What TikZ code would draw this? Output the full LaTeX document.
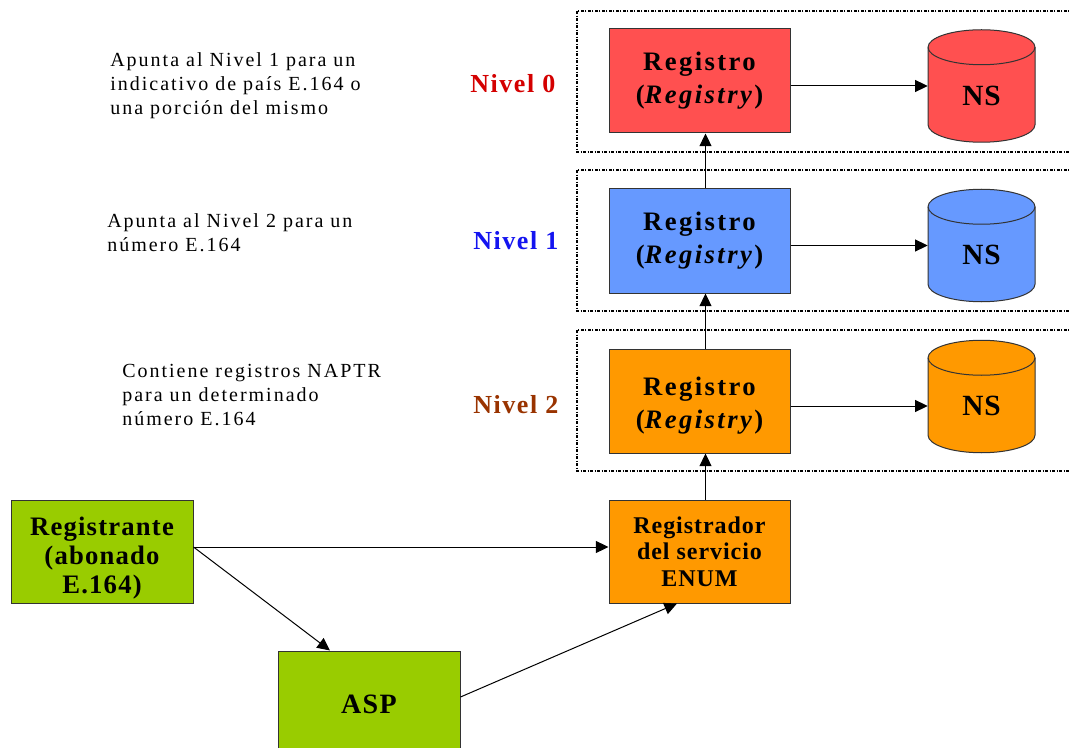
\documentclass[tikz,border=0pt]{standalone}
\usepackage{fontspec}
\setmainfont{Liberation Serif}
\usetikzlibrary{arrows.meta,calc}
\definecolor{cred}{HTML}{FF5050}
\definecolor{cblue}{HTML}{6699FF}
\definecolor{corange}{HTML}{FF9900}
\definecolor{cgreen}{HTML}{99CC00}
\definecolor{nred}{HTML}{D40000}
\definecolor{nblue}{HTML}{1414F0}
\definecolor{nbrown}{HTML}{993300}
\definecolor{bd}{HTML}{333333}
\newcommand\drawcyl[2]{%
  \filldraw[fill=#2,draw=bd,line width=0.75pt]
    ($(#1)+(-53.5,-38.75)$) -- ($(#1)+(-53.5,38.75)$)
    arc[start angle=180,end angle=0,x radius=53.5,y radius=17.5]
    -- ($(#1)+(53.5,-38.75)$)
    arc[start angle=0,end angle=-180,x radius=53.5,y radius=17.5] -- cycle;
  \draw[draw=bd,line width=0.75pt] ($(#1)+(-53.5,-38.75)$)
    arc[start angle=180,end angle=0,x radius=53.5,y radius=17.5];}
\begin{document}
\begin{tikzpicture}[x=0.75pt,y=-0.75pt,
  box/.style={draw=bd,line width=0.75pt,minimum width=135.75pt,minimum height=78pt,inner sep=1pt,align=center},
  regtext/.style={font=\fontsize{20}{24.75}\selectfont\bfseries\addfontfeature{LetterSpace=9}},
  nsnode/.style={inner sep=0pt,minimum width=80.25pt,minimum height=84.5pt,text height=29pt,text depth=0pt,font=\fontsize{22}{24}\selectfont\bfseries\addfontfeature{LetterSpace=3}},
  frame/.style={line width=0.8pt,dash pattern=on 2.5pt off 1pt on 0.75pt off 1pt},
  arr/.style={line width=0.75pt,-{Triangle[length=9.5pt,width=9pt]}},
  txt/.style={font=\fontsize{15}{18}\selectfont\addfontfeature{LetterSpace=10},align=left,anchor=north west,inner sep=0pt},
  nivel/.style={font=\fontsize{19.5}{22}\selectfont\bfseries\addfontfeature{LetterSpace=6},anchor=base west,inner sep=0pt}]
\useasboundingbox (0,0) rectangle (1069,748);
\clip (0,0) rectangle (1069,748);
% level frames
\draw[frame] (577,11) rectangle (1080,152);
\draw[frame] (577,170) rectangle (1080,311);
\draw[frame] (577,330) rectangle (1080,471);
% registry boxes
\node[box,fill=cred,regtext] (r0) at (699.5,81) {Registro\\(\textit{Registry})};
\node[box,fill=cblue,regtext] (r1) at (699.5,241) {Registro\\(\textit{Registry})};
\node[box,fill=corange,regtext] (r2) at (699.5,401) {\rule{0pt}{21.3pt}Registro\\(\textit{Registry})};
\node[box,fill=corange,minimum height=77.25pt,font=\fontsize{18}{20}\selectfont\bfseries\addfontfeature{LetterSpace=4}] (reg) at (699.5,551.5) {Registrador\\del servicio\\ENUM};
\node[box,fill=cgreen,minimum width=136.5pt,minimum height=77.25pt,font=\fontsize{20}{21.75}\selectfont\bfseries\addfontfeature{LetterSpace=4.5}] (rte) at (102,551.5) {\rule{0pt}{23.7pt}Registrante\\(abonado\\E.164)};
\node[box,fill=cgreen,minimum width=136.5pt,minimum height=79.5pt,font=\fontsize{21}{24}\selectfont\bfseries\addfontfeature{LetterSpace=5}] (asp) at (369,704) {ASP};
% NS cylinders
\path (981.5,86) coordinate (c0) (981.5,245.5) coordinate (c1) (981.5,396.5) coordinate (c2);
\drawcyl{c0}{cred}
\drawcyl{c1}{cblue}
\drawcyl{c2}{corange}
\node[nsnode] (ns0) at (c0) {NS};
\node[nsnode] (ns1) at (c1) {NS};
\node[nsnode] (ns2) at (c2) {NS};
% arrows to NS
\draw[arr] (r0.east |- ns0.west) -- (ns0.west);
\draw[arr] (r1.east |- ns1.west) -- (ns1.west);
\draw[arr] ($(r2.east |- ns2.west)+(0,9.5)$) -- ($(ns2.west)+(0,9.5)$);
% vertical arrows
\draw[arr] ($(r1.north)+(6,0)$) -- ($(r0.south)+(6,0)$);
\draw[arr] ($(r2.north)+(6,0)$) -- ($(r1.south)+(6,0)$);
\draw[arr] ($(reg.north)+(6,0)$) -- ($(r2.south)+(6,0)$);
% bottom arrows
\draw[arr] ($(rte.east)+(0,-4.5)$) -- ($(reg.west)+(0,-4.5)$);
\draw[arr] ($(rte.east)+(0,-4.5)$) -- ($(asp.north)+(-39,0)$);
\draw[arr] ($(asp.east)+(0,-7)$) -- ($(reg.south)+(-22.5,0)$);
% level labels
\node[nivel,text=nred] (n0) at (470,93) {Nivel 0};
\node[nivel,text=nblue] (n1) at (473,250) {Nivel 1};
\node[nivel,text=nbrown] (n2) at (473,413) {Nivel 2};
% descriptions
\node[txt] (d0) at (110,52) {Apunta al Nivel 1 para un\\indicativo de país E.164 o\\una porción del mismo};
\node[txt] (d1) at (107,213) {Apunta al Nivel 2 para un\\número E.164};
\node[txt] (d2) at (122,364) {Contiene registros NAPTR\\para un determinado\\número E.164};
\end{tikzpicture}
\end{document}
